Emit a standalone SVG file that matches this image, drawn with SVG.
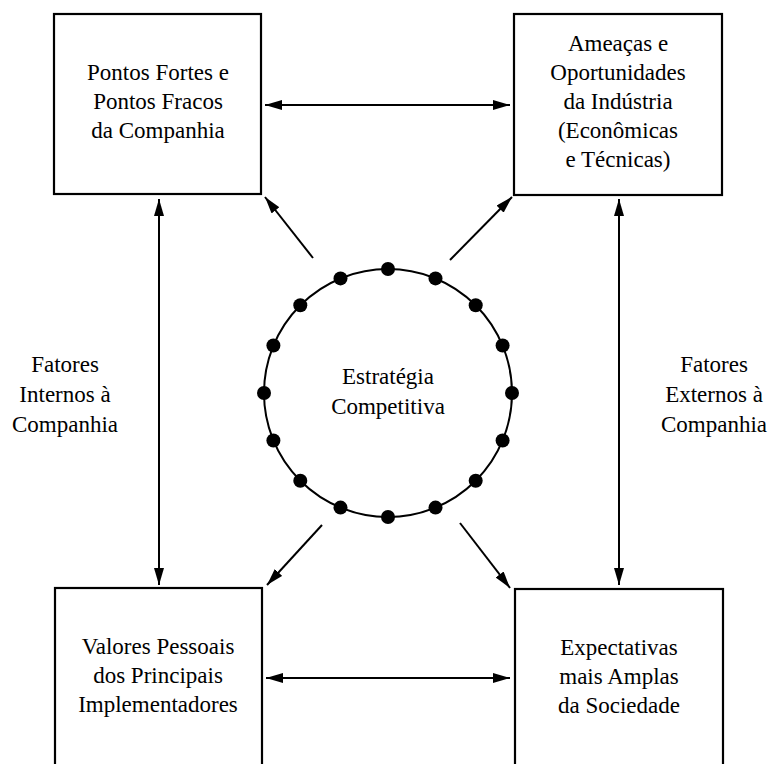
<svg xmlns="http://www.w3.org/2000/svg" width="776" height="764" viewBox="0 0 776 764">
<defs>
<marker id="ah" viewBox="0 0 17 10" refX="17" refY="5" markerWidth="17" markerHeight="10" markerUnits="userSpaceOnUse" orient="auto-start-reverse">
<path d="M0,0 L17,5 L0,10 z" fill="#000"/>
</marker>
</defs>
<rect width="776" height="764" fill="#fff"/>
<g id="connectors" stroke="#000" stroke-width="2" fill="none">
<line x1="265" y1="105" x2="510" y2="105" marker-start="url(#ah)" marker-end="url(#ah)"/>
<line x1="266" y1="678" x2="510" y2="678" marker-start="url(#ah)" marker-end="url(#ah)"/>
<line x1="159" y1="199" x2="159" y2="585" marker-start="url(#ah)" marker-end="url(#ah)"/>
<line x1="619" y1="199" x2="619" y2="585" marker-start="url(#ah)" marker-end="url(#ah)"/>
<line x1="313" y1="258" x2="265" y2="197" marker-end="url(#ah)"/>
<line x1="450" y1="260" x2="512" y2="197" marker-end="url(#ah)"/>
<line x1="322" y1="525" x2="267" y2="585" marker-end="url(#ah)"/>
<line x1="460" y1="523" x2="510" y2="588" marker-end="url(#ah)"/>
</g>
<g id="forcas">
<rect x="54" y="14" width="207" height="180" fill="#fff" stroke="#000" stroke-width="2.2"/>
<text font-family="Liberation Serif" font-size="23" text-anchor="middle" x="158" y="80">Pontos Fortes e</text>
<text font-family="Liberation Serif" font-size="23" text-anchor="middle" x="158" y="109">Pontos Fracos</text>
<text font-family="Liberation Serif" font-size="23" text-anchor="middle" x="158" y="138">da Companhia</text>
</g>
<g id="ameacas">
<rect x="514" y="14" width="208" height="181" fill="#fff" stroke="#000" stroke-width="2.2"/>
<text font-family="Liberation Serif" font-size="23" text-anchor="middle" x="618" y="51">Ameaças e</text>
<text font-family="Liberation Serif" font-size="23" text-anchor="middle" x="618" y="80">Oportunidades</text>
<text font-family="Liberation Serif" font-size="23" text-anchor="middle" x="618" y="109">da Indústria</text>
<text font-family="Liberation Serif" font-size="23" text-anchor="middle" x="618" y="138">(Econômicas</text>
<text font-family="Liberation Serif" font-size="23" text-anchor="middle" x="618" y="167">e Técnicas)</text>
</g>
<g id="valores">
<rect x="55" y="588" width="207" height="190" fill="#fff" stroke="#000" stroke-width="2.2"/>
<text font-family="Liberation Serif" font-size="23" text-anchor="middle" x="158" y="654">Valores Pessoais</text>
<text font-family="Liberation Serif" font-size="23" text-anchor="middle" x="158" y="683">dos Principais</text>
<text font-family="Liberation Serif" font-size="23" text-anchor="middle" x="158" y="712">Implementadores</text>
</g>
<g id="expectativas">
<rect x="515" y="589" width="208" height="190" fill="#fff" stroke="#000" stroke-width="2.2"/>
<text font-family="Liberation Serif" font-size="23" text-anchor="middle" x="619" y="655">Expectativas</text>
<text font-family="Liberation Serif" font-size="23" text-anchor="middle" x="619" y="684">mais Amplas</text>
<text font-family="Liberation Serif" font-size="23" text-anchor="middle" x="619" y="713">da Sociedade</text>
</g>
<g id="internos">
<text font-family="Liberation Serif" font-size="23" text-anchor="middle" x="65" y="372">Fatores</text>
<text font-family="Liberation Serif" font-size="23" text-anchor="middle" x="65" y="402">Internos à</text>
<text font-family="Liberation Serif" font-size="23" text-anchor="middle" x="65" y="432">Companhia</text>
</g>
<g id="externos">
<text font-family="Liberation Serif" font-size="23" text-anchor="middle" x="714" y="372">Fatores</text>
<text font-family="Liberation Serif" font-size="23" text-anchor="middle" x="714" y="402">Externos à</text>
<text font-family="Liberation Serif" font-size="23" text-anchor="middle" x="714" y="432">Companhia</text>
</g>
<g id="estrategia">
<circle cx="388" cy="393" r="124" fill="none" stroke="#000" stroke-width="2"/>
<g fill="#000">
<circle cx="388" cy="269" r="7"/>
<circle cx="435.5" cy="278.4" r="7"/>
<circle cx="475.7" cy="305.3" r="7"/>
<circle cx="502.6" cy="345.5" r="7"/>
<circle cx="512" cy="393" r="7"/>
<circle cx="502.6" cy="440.5" r="7"/>
<circle cx="475.7" cy="480.7" r="7"/>
<circle cx="435.5" cy="507.6" r="7"/>
<circle cx="388" cy="517" r="7"/>
<circle cx="340.5" cy="507.6" r="7"/>
<circle cx="300.3" cy="480.7" r="7"/>
<circle cx="273.4" cy="440.5" r="7"/>
<circle cx="264" cy="393" r="7"/>
<circle cx="273.4" cy="345.5" r="7"/>
<circle cx="300.3" cy="305.3" r="7"/>
<circle cx="340.5" cy="278.4" r="7"/>
</g>
<text font-family="Liberation Serif" font-size="23" text-anchor="middle" x="388" y="384">Estratégia</text>
<text font-family="Liberation Serif" font-size="23" text-anchor="middle" x="388" y="414">Competitiva</text>
</g>
</svg>
